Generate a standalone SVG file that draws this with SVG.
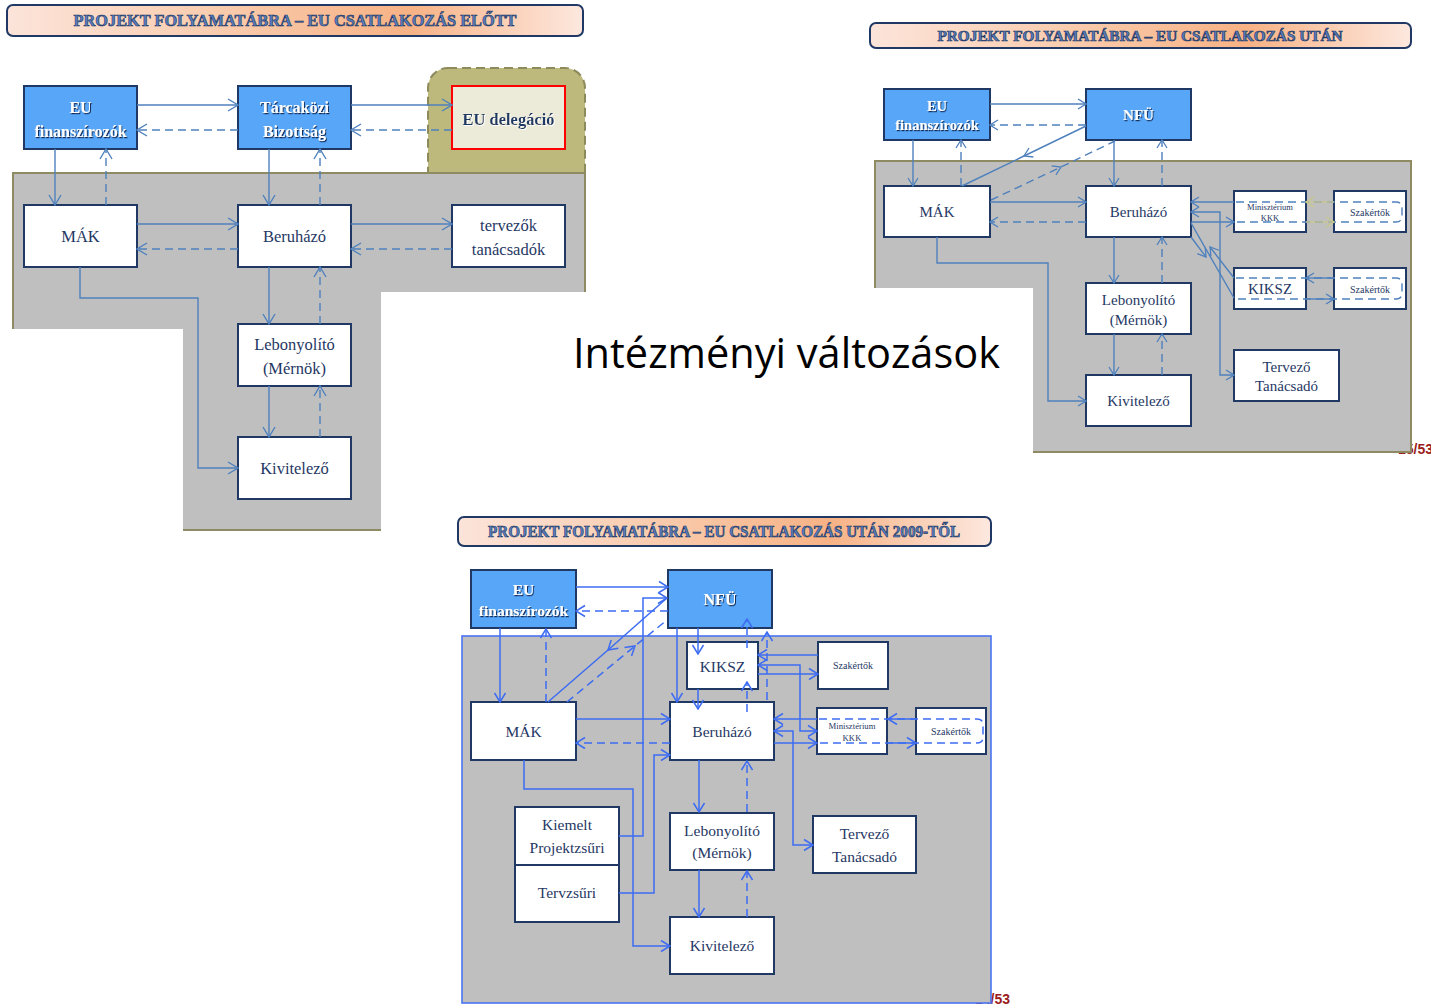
<svg xmlns="http://www.w3.org/2000/svg" width="1431" height="1007" viewBox="0 0 1431 1007">
<defs>
<style>
.tbox{fill:url(#tg);stroke:#1f3864;stroke-width:2}
.title{font-family:"Liberation Serif",serif;font-weight:bold;fill:#5a7fc0;stroke:#1f3864;stroke-width:0.65;text-anchor:middle}
.nb{fill:#57a6f7;stroke:#1f3864;stroke-width:2}
.nw{fill:#ffffff;stroke:#1f3864;stroke-width:2}
.tb{font-family:"Liberation Serif",serif;font-weight:bold;fill:#ffffff;text-anchor:middle;filter:url(#sh)}
.tw{font-family:"Liberation Serif",serif;fill:#1f3864;text-anchor:middle}
.c1{fill:none;stroke:#4f81bd;stroke-width:1.4}
.c3{fill:none;stroke:#3d6cf2;stroke-width:1.5}
.cy{fill:none;stroke:#c9c88c;stroke-width:1.4}
.d{stroke-dasharray:8 5}
.m1{marker-end:url(#a1)}
.m2{marker-end:url(#a2)}
.m3{marker-end:url(#a3)}
.pg{font-family:"Liberation Sans",Arial,sans-serif;font-weight:bold;font-size:14px;fill:#9b1c1c}
</style>
<linearGradient id="tg" x1="0" y1="0" x2="1" y2="0">
<stop offset="0" stop-color="#fce4da"/>
<stop offset="0.35" stop-color="#f9cdb0"/>
<stop offset="0.7" stop-color="#f7b285"/>
<stop offset="1" stop-color="#fde8df"/>
</linearGradient>
<filter id="sh" x="-10%" y="-30%" width="130%" height="170%">
<feDropShadow dx="1" dy="1.2" stdDeviation="0.6" flood-color="#0b1f44" flood-opacity="0.9"/>
</filter>
<filter id="wg" x="-10%" y="-30%" width="130%" height="170%">
<feDropShadow dx="1" dy="1" stdDeviation="0.5" flood-color="#ffffff" flood-opacity="1"/>
</filter>
<marker id="a1" viewBox="-11 -7 12 14" refX="0" refY="0" markerWidth="12" markerHeight="14" markerUnits="userSpaceOnUse" orient="auto-start-reverse">
<path d="M-10,-6 L0,0 L-10,6" fill="none" stroke="#4f81bd" stroke-width="1.4"/>
</marker>
<marker id="a2" viewBox="-10 -6 11 12" refX="0" refY="0" markerWidth="11" markerHeight="12" markerUnits="userSpaceOnUse" orient="auto-start-reverse">
<path d="M-8,-5 L0,0 L-8,5" fill="none" stroke="#4f81bd" stroke-width="1.3"/>
</marker>
<marker id="ay" viewBox="-10 -6 11 12" refX="0" refY="0" markerWidth="11" markerHeight="12" markerUnits="userSpaceOnUse" orient="auto">
<path d="M-8,-5 L0,0 L-8,5" fill="none" stroke="#c9c88c" stroke-width="1.3"/>
</marker>
<marker id="a3" viewBox="-11 -7 12 14" refX="0" refY="0" markerWidth="12" markerHeight="14" markerUnits="userSpaceOnUse" orient="auto-start-reverse">
<path d="M-9,-5.5 L0,0 L-9,5.5" fill="none" stroke="#3d6cf2" stroke-width="1.5"/>
</marker>
</defs>

<rect width="1431" height="1007" fill="#ffffff"/>

<!-- page numbers (partly hidden under panels) -->
<text class="pg" x="1398" y="454">15/53</text>
<text class="pg" x="975" y="1004">14/53</text>

<!-- ===== Panel 1 backgrounds ===== -->
<g id="p1-bg">
<rect x="428" y="68" width="157" height="130" rx="20" fill="#bdb87c" stroke="#8d8a5c" stroke-width="2" stroke-dasharray="9 5"/>
<rect x="13" y="173" width="572" height="357" fill="#bfbfbf" stroke="#8e8b63" stroke-width="2"/>
<rect x="12" y="329" width="171" height="204" fill="#ffffff"/>
<rect x="381" y="292" width="207" height="241" fill="#ffffff"/>
</g>
<g id="p1-title">
<rect class="tbox" x="7" y="5" width="576" height="31" rx="6"/>
<text class="title" x="295" y="26" font-size="17" textLength="443" lengthAdjust="spacingAndGlyphs">PROJEKT FOLYAMATÁBRA – EU CSATLAKOZÁS ELŐTT</text>
</g>

<!-- ===== Panel 2 backgrounds ===== -->
<g id="p2-bg">
<rect x="875" y="161" width="536" height="291" fill="#bfbfbf" stroke="#8e8b63" stroke-width="2"/>
<rect x="874" y="288" width="159" height="166" fill="#ffffff"/>
</g>
<g id="p2-title">
<rect class="tbox" x="870" y="23" width="541" height="25" rx="6"/>
<text class="title" x="1140" y="40.5" font-size="14" stroke-width="0.5" textLength="405" lengthAdjust="spacingAndGlyphs">PROJEKT FOLYAMATÁBRA – EU CSATLAKOZÁS UTÁN</text>
</g>

<!-- ===== Panel 3 backgrounds ===== -->
<g id="p3-bg">
<rect x="462" y="636" width="529" height="367" fill="#bfbfbf" stroke="#4a73f0" stroke-width="1.6"/>
</g>
<g id="p3-title">
<rect class="tbox" x="458" y="517" width="533" height="29" rx="6"/>
<text class="title" x="724" y="537" font-size="16" textLength="472" lengthAdjust="spacingAndGlyphs">PROJEKT FOLYAMATÁBRA – EU CSATLAKOZÁS UTÁN 2009-TŐL</text>
</g>

<!-- ===== Panel 1 nodes ===== -->
<g id="p1-eu"><rect class="nb" x="24" y="86" width="113" height="63"/><text class="tb" font-size="16" x="80.5" y="113">EU</text><text class="tb" font-size="16" x="80.5" y="137">finanszírozók</text></g>
<g id="p1-tarcakozi"><rect class="nb" x="238" y="86" width="113" height="63"/><text class="tb" font-size="16" x="294.5" y="113">Tárcaközi</text><text class="tb" font-size="16" x="294.5" y="137">Bizottság</text></g>
<g id="p1-eudeleg"><rect x="452" y="86" width="113" height="63" fill="#ecebd9" stroke="#ff0000" stroke-width="2"/><text x="508.5" y="125" font-size="16.5" font-family="Liberation Serif, serif" font-weight="bold" fill="#1f3864" text-anchor="middle" filter="url(#wg)">EU delegáció</text></g>
<g id="p1-mak"><rect class="nw" x="24" y="205" width="113" height="62"/><text class="tw" font-size="16.5" x="80.5" y="242">MÁK</text></g>
<g id="p1-beruhazo"><rect class="nw" x="238" y="205" width="113" height="62"/><text class="tw" font-size="16.5" x="294.5" y="242">Beruházó</text></g>
<g id="p1-tervezok"><rect class="nw" x="452" y="205" width="113" height="62"/><text class="tw" font-size="16.5" x="508.5" y="231">tervezők</text><text class="tw" font-size="16.5" x="508.5" y="255">tanácsadók</text></g>
<g id="p1-lebonyolito"><rect class="nw" x="238" y="324" width="113" height="62"/><text class="tw" font-size="16.5" x="294.5" y="350">Lebonyolító</text><text class="tw" font-size="16.5" x="294.5" y="374">(Mérnök)</text></g>
<g id="p1-kivitelezo"><rect class="nw" x="238" y="437" width="113" height="62"/><text class="tw" font-size="16.5" x="294.5" y="474">Kivitelező</text></g>

<!-- ===== Panel 2 nodes ===== -->
<g id="p2-eu"><rect class="nb" x="884" y="89" width="106" height="51"/><text class="tb" font-size="14.5" x="937" y="111">EU</text><text class="tb" font-size="14.5" x="937" y="130">finanszírozók</text></g>
<g id="p2-nfu"><rect class="nb" x="1086" y="89" width="105" height="51"/><text class="tb" font-size="15" x="1138.5" y="120">NFÜ</text></g>
<g id="p2-mak"><rect class="nw" x="884" y="186" width="106" height="51"/><text class="tw" font-size="15" x="937" y="217">MÁK</text></g>
<g id="p2-beruhazo"><rect class="nw" x="1086" y="186" width="105" height="51"/><text class="tw" font-size="15" x="1138.5" y="217">Beruházó</text></g>
<g id="p2-miniszterium"><rect class="nw" x="1234" y="191" width="72" height="41"/><text class="tw" font-size="8.5" x="1270" y="210">Minisztérium</text><text class="tw" font-size="8.5" x="1270" y="221">KKK</text></g>
<g id="p2-szakertok1"><rect class="nw" x="1334" y="191" width="72" height="41"/><text class="tw" font-size="10" x="1370" y="215.5">Szakértők</text></g>
<g id="p2-kiksz"><rect class="nw" x="1234" y="268" width="72" height="41"/><text class="tw" font-size="15" x="1270" y="294">KIKSZ</text></g>
<g id="p2-szakertok2"><rect class="nw" x="1334" y="268" width="72" height="41"/><text class="tw" font-size="10" x="1370" y="292.5">Szakértők</text></g>
<g id="p2-lebonyolito"><rect class="nw" x="1086" y="283" width="105" height="51"/><text class="tw" font-size="15" x="1138.5" y="305">Lebonyolító</text><text class="tw" font-size="15" x="1138.5" y="325">(Mérnök)</text></g>
<g id="p2-tervezo"><rect class="nw" x="1234" y="350" width="105" height="51"/><text class="tw" font-size="15" x="1286.5" y="372">Tervező</text><text class="tw" font-size="15" x="1286.5" y="391">Tanácsadó</text></g>
<g id="p2-kivitelezo"><rect class="nw" x="1086" y="375" width="105" height="51"/><text class="tw" font-size="15" x="1138.5" y="406">Kivitelező</text></g>

<!-- ===== Panel 3 nodes ===== -->
<g id="p3-eu"><rect class="nb" x="471" y="570" width="105" height="58"/><text class="tb" font-size="15.5" x="523.5" y="595">EU</text><text class="tb" font-size="15.5" x="523.5" y="616">finanszírozók</text></g>
<g id="p3-nfu"><rect class="nb" x="668" y="570" width="104" height="58"/><text class="tb" font-size="16" x="720" y="605">NFÜ</text></g>
<g id="p3-kiksz"><rect class="nw" x="687" y="642" width="71" height="47"/><text class="tw" font-size="15.5" x="722.5" y="671.5">KIKSZ</text></g>
<g id="p3-szakertok1"><rect class="nw" x="818" y="642" width="70" height="47"/><text class="tw" font-size="10" x="853" y="669">Szakértők</text></g>
<g id="p3-mak"><rect class="nw" x="471" y="702" width="105" height="58"/><text class="tw" font-size="15.5" x="523.5" y="737">MÁK</text></g>
<g id="p3-beruhazo"><rect class="nw" x="670" y="702" width="104" height="58"/><text class="tw" font-size="15.5" x="722" y="737">Beruházó</text></g>
<g id="p3-miniszterium"><rect class="nw" x="817" y="708" width="70" height="46"/><text class="tw" font-size="8.7" x="852" y="729">Minisztérium</text><text class="tw" font-size="8.7" x="852" y="741">KKK</text></g>
<g id="p3-szakertok2"><rect class="nw" x="916" y="708" width="70" height="46"/><text class="tw" font-size="10" x="951" y="735">Szakértők</text></g>
<g id="p3-kiemelt"><rect class="nw" x="515" y="807" width="104" height="58"/><text class="tw" font-size="15.5" x="567" y="830">Kiemelt</text><text class="tw" font-size="15.5" x="567" y="853">Projektzsűri</text></g>
<g id="p3-tervzsuri"><rect class="nw" x="515" y="865" width="104" height="57"/><text class="tw" font-size="15.5" x="567" y="898">Tervzsűri</text></g>
<g id="p3-lebonyolito"><rect class="nw" x="670" y="813" width="104" height="57"/><text class="tw" font-size="15.5" x="722" y="836">Lebonyolító</text><text class="tw" font-size="15.5" x="722" y="858">(Mérnök)</text></g>
<g id="p3-tervezo"><rect class="nw" x="813" y="816" width="103" height="57"/><text class="tw" font-size="15.5" x="864.5" y="839">Tervező</text><text class="tw" font-size="15.5" x="864.5" y="862">Tanácsadó</text></g>
<g id="p3-kivitelezo"><rect class="nw" x="670" y="917" width="104" height="57"/><text class="tw" font-size="15.5" x="722" y="951">Kivitelező</text></g>

<!-- ===== Connectors ===== -->
<g id="connectors">
<!-- panel 1 -->
<path class="c1 m1" d="M137,105 H238"/>
<path class="c1 d m1" d="M238,130 H137"/>
<path class="c1 m1" d="M351,105 H452"/>
<path class="c1 d m1" d="M452,130 H351"/>
<path class="c1 m1" d="M55,149 V205"/>
<path class="c1 d m1" d="M106,205 V149"/>
<path class="c1 m1" d="M269,149 V205"/>
<path class="c1 d m1" d="M320,205 V149"/>
<path class="c1 m1" d="M137,224 H238"/>
<path class="c1 d m1" d="M238,249 H137"/>
<path class="c1 m1" d="M351,224 H452"/>
<path class="c1 d m1" d="M452,249 H351"/>
<path class="c1 m1" d="M269,267 V324"/>
<path class="c1 d m1" d="M320,324 V267"/>
<path class="c1 m1" d="M269,386 V437"/>
<path class="c1 d m1" d="M320,437 V386"/>
<path class="c1 m1" d="M80,267 V298 H198 V468 H238"/>

<!-- panel 2 -->
<path class="c1 m2" d="M990,104 H1086"/>
<path class="c1 d m2" d="M1086,125 H990"/>
<path class="c1 m2" d="M913,140 V186"/>
<path class="c1 d m2" d="M961,186 V140"/>
<path class="c1" d="M1086,126 L1024,156 L962,186" marker-mid="url(#a2)"/>
<path class="c1 d" d="M991,200 L1061,167 L1115,141" marker-mid="url(#a2)"/>
<path class="c1 m2" d="M1114,140 V186"/>
<path class="c1 d m2" d="M1162,186 V140"/>
<path class="c1 m2" d="M990,202 H1086"/>
<path class="c1 d m2" d="M1086,222 H990"/>
<path class="c1 m2" d="M1114,237 V283"/>
<path class="c1 d m2" d="M1162,283 V237"/>
<path class="c1 m2" d="M1114,334 V375"/>
<path class="c1 d m2" d="M1162,375 V334"/>
<path class="c1 m2" d="M937,237 V263 H1048 V401 H1086"/>
<path class="c1 d" d="M1236,202 H1396 Q1402,202 1402,208 V216 Q1402,222 1396,222 H1236"/>
<path class="c1 d" d="M1236,278 H1396 Q1402,278 1402,284 V293 Q1402,299 1396,299 H1236"/>
<path class="c1 m2" d="M1234,202 H1191"/>
<path class="c1 m2" d="M1191,222 H1234"/>
<path class="c1 m2" d="M1191,212 H1220 V375 H1234" marker-start="url(#a2)"/>
<path class="c1" d="M1191,223 L1234,298"/>
<path class="c1 m2" d="M1191,237 L1206,257"/>
<path class="c1 m2" d="M1234,278 L1210,247"/>
<path class="cy" d="M1334,202 H1306" marker-end="url(#ay)"/>
<path class="cy" d="M1306,222 H1334" marker-end="url(#ay)"/>
<path class="c1 m2" d="M1334,278 H1306"/>
<path class="c1 m2" d="M1306,299 H1334"/>

<!-- panel 3 -->
<path class="c3 m3" d="M576,587 H668"/>
<path class="c3 d m3" d="M668,611 H576"/>
<path class="c3 m3" d="M500,628 V702"/>
<path class="c3 d m3" d="M546,702 V629"/>
<path class="c3" d="M667,598 L608,650 L548,702" marker-mid="url(#a3)"/>
<path class="c3 d" d="M567,702 L635,646 L667,620" marker-mid="url(#a3)"/>
<path class="c3 m3" d="M619,836 H643 V598 H667"/>
<path class="c3 m3" d="M619,893 H654 V755 H670"/>
<path class="c3 m3" d="M524,760 V789 H633 V946 H670"/>
<path class="c3 m3" d="M576,719 H670"/>
<path class="c3 d m3" d="M670,743 H576"/>
<path class="c3 m3" d="M677,628 V702"/>
<path class="c3 m3" d="M698,628 V654"/>
<path class="c3 m3" d="M698,689 V709"/>
<path class="c3 d m3" d="M747,712 V682"/>
<path class="c3 d m3" d="M747,648 V619"/>
<path class="c3 d m3" d="M767,700 V632"/>
<path class="c3 m3" d="M818,655 H758"/>
<path class="c3 m3" d="M758,665 H800 V731 H817" marker-start="url(#a3)"/>
<path class="c3 m3" d="M758,674 H818"/>
<path class="c3 m3" d="M817,719 H774"/>
<path class="c3 m3" d="M774,731 H793 V845 H813" marker-start="url(#a3)"/>
<path class="c3 m3" d="M774,743 H817"/>
<path class="c3 d" d="M819,719 H977 Q983,719 983,725 V737 Q983,743 977,743 H819"/>
<path class="c3 m3" d="M916,719 H888"/>
<path class="c3 m3" d="M888,743 H916"/>
<path class="c3 m3" d="M699,760 V812"/>
<path class="c3 d m3" d="M747,812 V761"/>
<path class="c3 m3" d="M699,870 V917"/>
<path class="c3 d m3" d="M747,917 V871"/>
</g>

<text id="main-title" x="573" y="368" font-family="Open Sans, sans-serif" font-size="42" fill="#000000" textLength="427" lengthAdjust="spacingAndGlyphs">Intézményi változások</text>
</svg>
